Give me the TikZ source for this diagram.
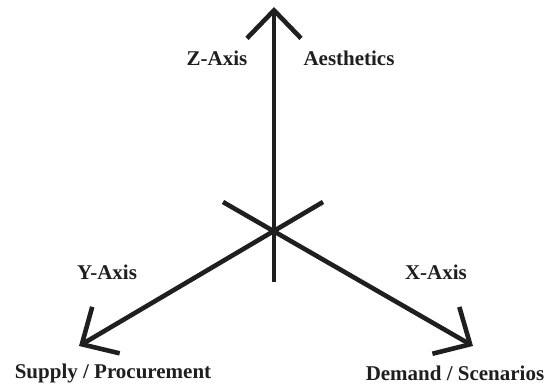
\documentclass[tikz,border=0pt]{standalone}
\usepackage{fontspec}
\setmainfont{Liberation Serif}
\usetikzlibrary{arrows.meta}
\begin{document}
\begin{tikzpicture}[x=1pt,y=1pt,
  axisline/.style={line width=4.6pt, draw=black!88, -{Straight Barb[sharp,length=28pt,width=54pt,line width=4.6pt]}},
  lbl/.style={font=\fontsize{21}{24}\selectfont\bfseries, text=black!88, inner sep=0pt}]
\useasboundingbox (0,0) rectangle (550,385);
\coordinate (zs) at (274,103);
\coordinate (zt) at (274,378);
\coordinate (ys) at (323,183);
\coordinate (yt) at (79,39);
\coordinate (xs) at (223,183);
\coordinate (xt) at (473,39);
\draw[axisline] (zs) -- (zt);
\draw[axisline] (ys) -- (yt);
\draw[axisline] (xs) -- (xt);
\node[lbl] (zl) at (217,327) {Z-Axis};
\node[lbl] (al) at (349,327) {Aesthetics};
\node[lbl] (yl) at (107,113) {Y-Axis};
\node[lbl] (xl) at (436,113) {X-Axis};
\node[lbl] (sl) at (113,12) {Supply / Procurement};
\node[lbl] (dl) at (455,12) {Demand / Scenarios};
\end{tikzpicture}
\end{document}
